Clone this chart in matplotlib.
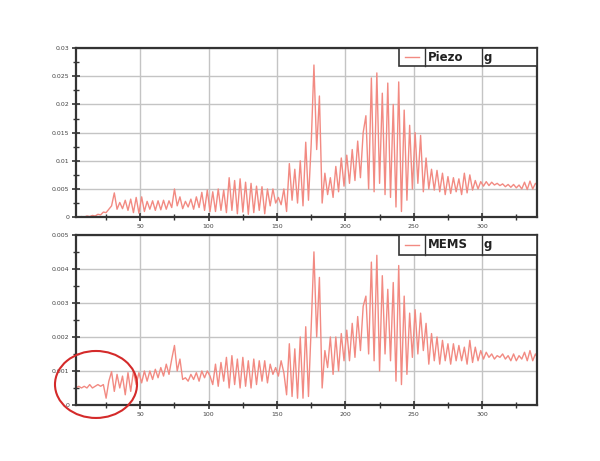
import numpy as np
import matplotlib
matplotlib.use('Agg')
import matplotlib.pyplot as plt
from matplotlib.patches import Rectangle, Ellipse
from matplotlib.ticker import MultipleLocator, FormatStrFormatter

# frekvence: od 3 do 341, korak 2
freq = np.arange(3, 342, 2)

# Piezo, v milli-g (odcitano s slike)
piezo_mg = [
    0.0, 0.0, 0.1, 0.0, 0.2, 0.1, 0.3, 0.2, 0.5, 0.4,
    0.9, 0.8, 1.4, 2.0, 4.3, 1.4, 2.6, 1.5, 3.0, 1.2,
    3.2, 0.8, 3.5, 0.7, 3.6, 1.0, 2.8, 1.4, 2.9, 1.2,
    2.9, 1.3, 3.0, 1.4, 2.9, 1.7, 5.0, 2.0, 3.6, 1.5,
    2.8, 1.8, 3.2, 1.4, 3.6, 1.7, 4.4, 1.2, 4.8, 1.0,
    4.5, 1.0, 5.0, 1.2, 4.8, 0.8, 7.0, 1.2, 6.5, 0.6,
    6.8, 0.9, 6.2, 0.5, 6.0, 0.8, 5.5, 1.2, 5.4, 0.6,
    5.0, 2.0, 5.0, 2.5, 3.5, 2.2, 5.0, 1.0, 9.5, 3.0,
    8.5, 2.5, 10.0, 2.0, 13.3, 3.0, 13.0, 27.0, 12.0, 21.5,
    2.5, 7.8, 4.0, 7.0, 3.5, 9.0, 4.5, 10.5, 5.5, 11.0,
    6.0, 12.0, 6.5, 13.5, 7.0, 15.0, 18.0, 5.0, 24.7, 4.5,
    25.6, 6.0, 22.0, 4.0, 23.8, 3.5, 20.0, 1.8, 24.0, 1.0,
    19.0, 3.0, 16.3, 5.0, 15.0, 6.0, 14.5, 4.5, 10.5, 5.0,
    8.5, 4.8, 8.3, 4.5, 7.8, 4.0, 7.2, 4.2, 7.0, 4.5,
    6.8, 4.0, 7.8, 4.3, 7.5, 4.8, 6.5, 5.0, 6.3, 5.5,
    6.3, 5.6, 6.2, 5.7, 6.0, 5.6, 5.9, 5.4, 5.8, 5.3,
    5.8, 5.2, 5.7, 5.0, 6.2, 4.9, 6.4, 5.0, 6.0, 5.6,
]

# MEMS, v milli-g
mems_mg = [
    0.5, 0.55, 0.5, 0.55, 0.5, 0.6, 0.5, 0.55, 0.6, 0.55,
    0.6, 0.2, 0.7, 0.98, 0.4, 0.9, 0.5, 0.85, 0.3, 0.95,
    0.4, 1.0, 0.6, 0.95, 0.65, 1.0, 0.7, 1.0, 0.75, 1.05,
    0.8, 1.1, 0.85, 1.2, 0.9, 1.35, 1.75, 1.0, 1.35, 0.75,
    0.8, 0.7, 0.9, 0.75, 0.95, 0.7, 1.0, 0.8, 1.0, 0.85,
    0.6, 1.2, 0.55, 1.25, 0.7, 1.4, 0.5, 1.45, 0.6, 1.35,
    0.5, 1.4, 0.55, 1.3, 0.5, 1.35, 0.6, 1.3, 0.7, 1.3,
    0.65, 1.2, 0.9, 1.1, 0.85, 1.3, 0.95, 0.3, 1.8, 0.25,
    1.65, 0.2, 2.0, 0.2, 2.3, 0.25, 2.3, 4.5, 2.0, 3.75,
    0.5, 1.6, 1.1, 2.0, 0.9, 2.0, 1.0, 2.1, 1.3, 2.2,
    1.3, 2.4, 1.4, 2.6, 1.6, 2.9, 3.2, 1.5, 4.2, 1.3,
    4.4, 1.0, 3.8, 1.5, 3.4, 1.3, 3.6, 0.7, 4.1, 0.6,
    3.2, 0.9, 2.7, 1.4, 2.8, 1.5, 2.7, 1.6, 2.4, 1.2,
    2.1, 1.3, 2.0, 1.2, 1.9, 1.3, 1.8, 1.2, 1.8, 1.3,
    1.75, 1.3, 1.7, 1.2, 1.9, 1.25, 1.7, 1.3, 1.6, 1.35,
    1.55, 1.4, 1.5, 1.35, 1.45, 1.4, 1.5, 1.35, 1.45, 1.3,
    1.5, 1.3, 1.45, 1.35, 1.55, 1.3, 1.6, 1.3, 1.5, 1.35,
]

imena = ['Piezo', 'MEMS']
enota = 'g'
LINIJA = '#f28a82'
OKVIR = '#333333'

fig = plt.figure(figsize=[6, 4.61], dpi=100)
ax1 = fig.add_axes([0.1267, 0.529, 0.768, 0.3666])
ax2 = fig.add_axes([0.1267, 0.1215, 0.768, 0.369])

nastavitve = [
    (ax1, piezo_mg, imena[0], 0.03, 0.005, 0.0025, 0.895),
    (ax2, mems_mg, imena[1], 0.005, 0.001, 0.0005, 0.882),
]

for ax, vrednosti, ime, ymax, korak, mali, spodaj in nastavitve:
    ax.plot(freq, np.array(vrednosti) / 1000, color=LINIJA, lw=1.0)
    ax.set_xlim(3, 340)
    ax.set_ylim(0, ymax)
    ax.xaxis.set_major_locator(MultipleLocator(50))
    ax.xaxis.set_minor_locator(MultipleLocator(25))
    ax.yaxis.set_major_locator(MultipleLocator(korak))
    ax.yaxis.set_minor_locator(MultipleLocator(mali))
    ax.yaxis.set_major_formatter(FormatStrFormatter('%g'))
    ax.grid(True, which='major', color='#c4c4c4', lw=1.0)
    ax.tick_params(which='major', direction='inout', length=6, width=1.2,
                   color=OKVIR, labelsize=4.5, labelcolor='#444444', pad=2)
    ax.tick_params(which='minor', direction='inout', length=4, width=1.0, color=OKVIR)
    for s in ax.spines.values():
        s.set_color(OKVIR)
        s.set_linewidth(1.6)

    # legenda kot tabela
    ax.add_patch(Rectangle((0.70, spodaj), 0.30, 1 - spodaj, transform=ax.transAxes,
                           facecolor='white', edgecolor=OKVIR, lw=1.2, zorder=5))
    for xs in (0.757, 0.88):
        ax.plot([xs, xs], [spodaj, 1], transform=ax.transAxes, color=OKVIR, lw=1.0, zorder=6)
    ym = (1 + spodaj) / 2
    ax.plot([0.713, 0.745], [ym, ym], transform=ax.transAxes, color=LINIJA, lw=1.0, zorder=6)
    ax.text(0.763, ym, ime, transform=ax.transAxes, fontsize=8.5, va='center', ha='left',
            color='#222222', fontweight='bold', zorder=7)
    ax.text(0.885, ym, enota, transform=ax.transAxes, fontsize=8.5, va='center', ha='left',
            color='#222222', fontweight='bold', zorder=7)

krog = Ellipse((0.16, 0.166), 0.1367, 0.1453, transform=fig.transFigure,
               fill=False, edgecolor='#d42a2a', lw=1.5)
fig.patches.append(krog)

fig.savefig('out.png', dpi=100)
